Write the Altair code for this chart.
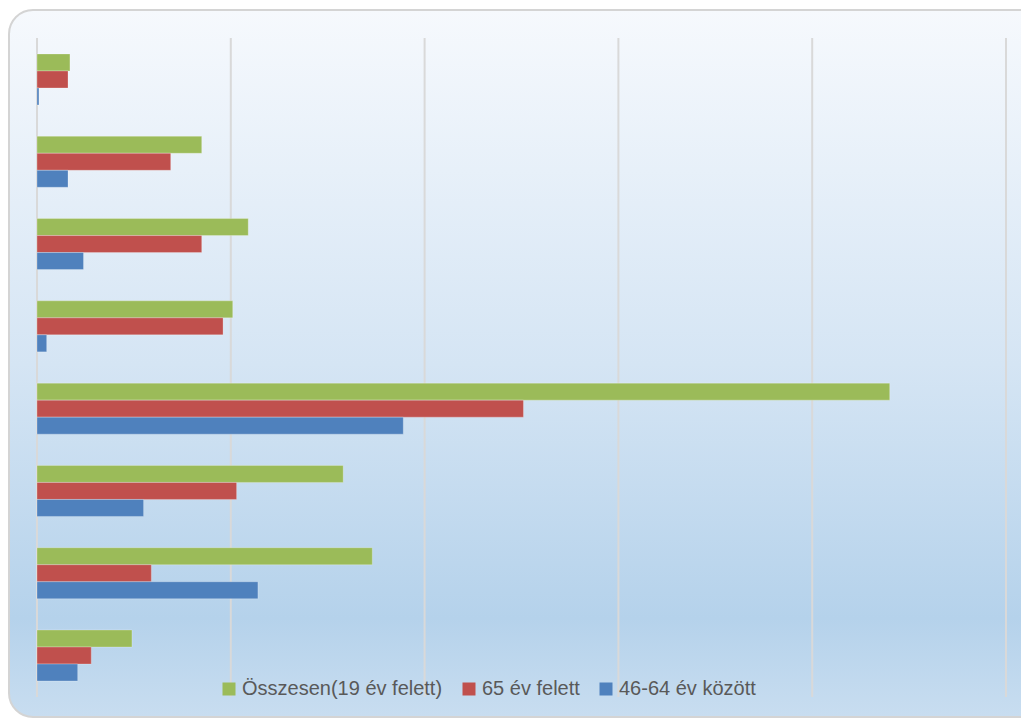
import altair as alt
import pandas as pd

groups = ["1", "2", "3", "4", "5", "6", "7", "8"]
series = ["Összesen(19 év felett)", "65 év felett", "46-64 év között"]
osszesen = [1.7, 8.5, 10.9, 10.1, 44.0, 15.8, 17.3, 4.9]
felett65 = [1.6, 6.9, 8.5, 9.6, 25.1, 10.3, 5.9, 2.8]
kozott = [0.1, 1.6, 2.4, 0.5, 18.9, 5.5, 11.4, 2.1]
grid_values = [0, 10, 20, 30, 40, 50]
colors = ["#9BBB59", "#C0504D", "#4F81BD"]

rows = []
for s, vals in zip(series, [osszesen, felett65, kozott]):
    for g, v in zip(groups, vals):
        rows.append({"group": g, "series": s, "value": v})
df = pd.DataFrame(rows)

W, H = 969, 659
xscale = alt.Scale(domain=[0, 50], nice=False, zero=True)

bg = alt.Chart(alt.Data(values=[{"a": 1}])).mark_rect(
    cornerRadius=24,
    stroke="#d4d4d4",
    strokeWidth=2,
    fill=alt.Gradient(
        gradient="linear",
        x1=0, x2=0, y1=0, y2=1,
        stops=[
            alt.GradientStop(offset=0, color="#f6f9fd"),
            alt.GradientStop(offset=0.5, color="#d5e5f4"),
            alt.GradientStop(offset=0.86, color="#b5d2eb"),
            alt.GradientStop(offset=1, color="#c8ddf0"),
        ],
    ),
).encode(
    x=alt.value(-28), x2=alt.value(W + 60),
    y=alt.value(-28), y2=alt.value(H + 20),
)

grid = alt.Chart(pd.DataFrame({"v": grid_values})).mark_rule(
    color="#d9d9d9", strokeWidth=2
).encode(x=alt.X("v:Q", scale=xscale, axis=None))

bars = alt.Chart(df).mark_bar(stroke="white", strokeOpacity=0.25, strokeWidth=1).encode(
    y=alt.Y("group:N", sort=groups, axis=None,
            scale=alt.Scale(paddingInner=0.38, paddingOuter=0.194)),
    yOffset=alt.YOffset("series:N", sort=series,
                        scale=alt.Scale(paddingInner=0, paddingOuter=0)),
    x=alt.X("value:Q", scale=xscale, axis=None),
    color=alt.Color(
        "series:N",
        sort=series,
        scale=alt.Scale(domain=series, range=colors),
        legend=alt.Legend(
            orient="none", legendX=182, legendY=641,
            direction="horizontal", title=None,
            symbolType="square", symbolSize=169, symbolStrokeWidth=0,
            symbolOpacity=1,
            labelFont="Liberation Sans",
            labelFontSize=20, labelColor="#595959",
            labelLimit=0,
            labelOffset=3, columnPadding=16,
        ),
    ),
)

chart = alt.layer(bg, grid, bars).properties(
    width=W, height=H,
    padding={"left": 29, "top": 30, "right": 15, "bottom": 21},
    autosize=alt.AutoSizeParams(type="none"),
    background="white",
).configure_view(stroke=None)

chart.save("out.html", embed_options={"renderer": "svg", "actions": False})
